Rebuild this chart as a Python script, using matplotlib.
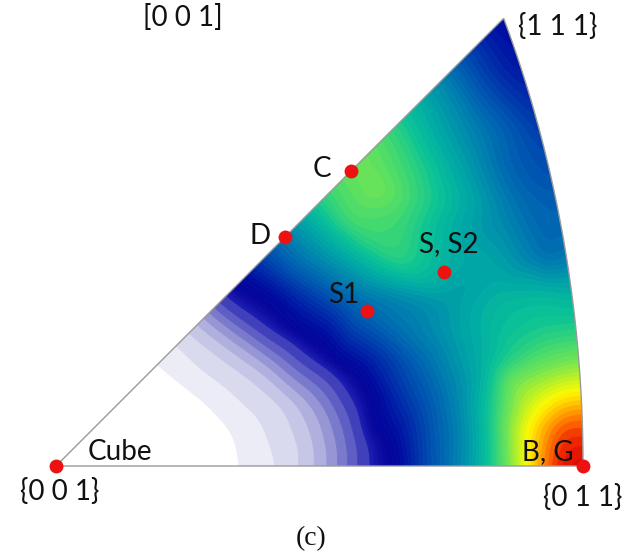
import numpy as np
import matplotlib
matplotlib.use("Agg")
import matplotlib.pyplot as plt
import matplotlib.tri as mtri
from matplotlib.colors import LinearSegmentedColormap
from matplotlib.patches import PathPatch
from matplotlib.path import Path

# ---------------- data ----------------
# texture components (Miller indices of the plane normal) and their labels
comp_labels = ["Cube", "D", "C", "S1", "S, S2", "B, G"]
comp_hkl = [(0, 0, 1), (4, 4, 11), (1, 1, 2), (1, 2, 4), (1, 2, 3), (0, 1, 1)]
comp_label_offset = [(64, 14), (-25, 1), (-29, 2), (-23, 16), (5, 28), (-35, 14)]

vertex_labels = ["{0 0 1}", "{0 1 1}", "{1 1 1}"]
vertex_hkl = [(0, 0, 1), (0, 1, 1), (1, 1, 1)]
vertex_label_offset = [(4, -26), (0, -31), (54, -8)]

# intensity samples (plot-plane units, {001} at origin)
# bottom edge {001}-{011}
bottom_x = [0, 94, 144, 184, 222, 241, 257, 271, 281, 291, 301, 312, 344, 364,
            394, 421, 444, 461, 471, 484, 497, 514, 527]
bottom_v = [0, 3, 6, 10, 14, 18, 22, 26, 30, 34, 38, 42, 48, 54,
            61, 68, 76, 84, 88, 92, 96, 99, 100]
# left edge {001}-{111} (distance along x)
left_x = [64, 80, 101, 121, 133, 141, 148, 153, 158, 162, 167, 176, 186, 194,
          206, 224, 230, 254, 264, 280, 296, 312, 329, 347, 364, 381, 394, 409,
          424, 436]
left_v = [3, 6, 10, 14, 18, 22, 26, 30, 34, 38, 42, 45, 48, 51,
          55, 60, 62, 70, 73, 77, 79, 80, 77, 73, 69, 65, 61, 57,
          53, 50]
# arc {011}-{111}: parameter t of direction (t, 1, 1)
arc_t = [0.05, 0.1, 0.15, 0.2, 0.25, 0.3, 0.4, 0.5, 0.6, 0.7, 0.8, 0.9, 1.0]
arc_v = [96, 93, 87, 81, 75, 71, 63, 59, 56, 53, 51, 49, 48]
# interior samples
inner_x = [44, 94, 124, 74, 144, 94, 134, 64,                 # white
           121, 151, 177, 184,                                # level 10
           162, 197, 230, 247,                                # level 18
           179, 216, 264, 273,                                # level 26
           192, 230, 268, 292,                                # level 34
           204, 244, 284, 302, 311,                           # level 42
           314, 344, 374, 404, 434, 454, 474, 494, 509,       # row 36
           314, 344, 374, 404, 434, 454, 474, 494, 509,       # row 66
           454,                                               # row 86
           284, 314, 344, 374, 404, 434, 464, 484, 504,       # row 106
           244, 274, 294, 344, 394, 444, 484,                 # row 136
           214, 244, 294, 344, 394, 444, 494, 312,            # row 166
           244, 294, 344, 394, 444, 464, 494,                 # row 206
           294, 344, 394, 444, 484,                           # row 246
           314, 364, 414, 464, 319,                           # row 266
           320, 364, 414, 454,                                # row 296
           374, 424, 464,                                     # row 336
           424, 454]                                          # row 396
inner_y = [26, 46, 26, 66, 26, 66, 36, 36,
           86, 63, 36, 6,
           113, 88, 60, 13,
           124, 98, 48, 11,
           133, 105, 76, 19,
           141, 113, 83, 53, 21,
           36, 36, 36, 36, 36, 36, 36, 36, 36,
           66, 66, 66, 66, 66, 66, 66, 66, 66,
           86,
           106, 106, 106, 106, 106, 106, 106, 106, 106,
           136, 136, 136, 136, 136, 136, 136,
           166, 166, 166, 166, 166, 166, 166, 154,
           206, 206, 206, 206, 206, 206, 206,
           246, 246, 246, 246, 246,
           266, 266, 266, 266, 276,
           296, 296, 296, 296,
           336, 336, 336,
           396, 396]
inner_v = [0.5, 3, 5, 4, 7, 6, 6, 3,
           10, 10, 10, 10,
           18, 18, 18, 18,
           26, 26, 26, 26,
           34, 34, 34, 34,
           42, 42, 42, 42, 42,
           46, 50, 57, 63, 72, 82, 89, 93, 96,
           46, 53, 58, 64, 72, 80, 85, 88, 90,
           80,
           48, 51, 56, 61, 66, 70, 75, 78, 79,
           48, 50, 55, 61, 66, 71, 73,
           47, 52, 59, 63, 66, 70, 71, 60,
           61, 68, 75, 69, 67, 64, 60,
           77, 76, 69, 64, 59,
           79, 75, 68, 60, 81,
           79, 74, 66, 59,
           69, 62, 57,
           55, 51]

# colour levels: white, 8 lavender steps, then a continuous scale
band_levels = [10, 14, 18, 22, 26, 30, 34, 38, 42]
lavender = ["#ffffff", "#ececf6", "#dadaef", "#c6c6e7", "#b0b0df",
            "#9696d5", "#7a7acc", "#5e5ec4", "#4040bb"]
scale_vals = [42, 46, 49, 53, 58, 63, 68, 72, 76, 80, 84, 88, 91, 94, 97, 100]
scale_cols = ["#1e1eb4", "#05059b", "#000aa0", "#002daa", "#005ab2", "#0082af",
              "#00aaa5", "#0ac396", "#3cd773", "#6ee455", "#b4f028", "#fffa00",
              "#ffbe00", "#ff6e00", "#eb1900", "#c80000"]

# ---------------- geometry (equal-area projection) ----------------
SCALE = 527.0 / (2 * np.sin(np.pi / 8))


def proj(h, k, l):
    v = np.array([h, k, l], float)
    v /= np.linalg.norm(v)
    theta = np.arccos(v[2])
    phi = np.arctan2(v[0], v[1])
    r = SCALE * 2 * np.sin(theta / 2)
    return r * np.cos(phi), r * np.sin(phi)


apex = proj(1, 1, 1)
tt = np.linspace(0, 1, 200)
arc = np.array([proj(t, 1, 1) for t in tt])

# ---------------- assemble samples ----------------
px, py, pv = [0.0], [0.0], [0.0]
for x, v in zip(bottom_x[1:], bottom_v[1:]):
    px.append(x); py.append(0.0); pv.append(v)
for x, v in zip(left_x, left_v):
    px.append(x); py.append(x * apex[1] / apex[0]); pv.append(v)
for t, v in zip(arc_t, arc_v):
    a = proj(t, 1, 1)
    px.append(a[0]); py.append(a[1]); pv.append(v)
px += inner_x; py += inner_y; pv += inner_v
px, py, pv = map(np.array, (px, py, pv))

tri = mtri.Triangulation(px, py)
lin = mtri.LinearTriInterpolator(tri, pv)
step = 1.5
gx = np.arange(-20, 550, step)
gy = np.arange(-20, 470, step)
GX, GY = np.meshgrid(gx, gy)
Z = lin(GX, GY)
m = (~np.ma.getmaskarray(Z)).astype(float)
zv = np.ma.filled(Z, 0.0) * m

sigma = 9.0 / step
kx = np.arange(-int(3 * sigma), int(3 * sigma) + 1)
kern = np.exp(-0.5 * (kx / sigma) ** 2)
kern /= kern.sum()


def blur(a):
    a = np.apply_along_axis(lambda r: np.convolve(r, kern, mode="same"), 1, a)
    return np.apply_along_axis(lambda c: np.convolve(c, kern, mode="same"), 0, a)


num = blur(zv)
den = blur(m)
ZS = np.where(den > 1e-3, num / np.maximum(den, 1e-3), np.nan)

cmap = LinearSegmentedColormap.from_list(
    "ipf", [((v - 42) / 58, c) for v, c in zip(scale_vals, scale_cols)])
fine = list(np.arange(43, 100.5, 1.0))
levels = [-1e4] + band_levels + fine + [1e4]
colors = list(lavender)
mids = [(a + b) / 2 for a, b in zip([42] + fine, fine + [101])]
colors += [cmap(min(max((m_ - 42) / 58, 0), 1)) for m_ in mids]

# ---------------- figure ----------------
fig = plt.figure(figsize=(6.38, 5.53), dpi=100)
ax = fig.add_axes([0, 0, 1, 1])
ax.set_xlim(-56, 582)
ax.set_ylim(-87, 466)
ax.axis("off")

cs = ax.contourf(GX, GY, ZS, levels=levels, colors=colors, antialiased=True)
cs.set_edgecolor("face")
cs.set_linewidth(0.6)

verts = [(0, 0), (527, 0)] + [tuple(p) for p in arc[1:]] + [(0, 0)]
codes = [Path.MOVETO] + [Path.LINETO] * (len(verts) - 2) + [Path.CLOSEPOLY]
boundary = Path(verts, codes)
patch = PathPatch(boundary, facecolor="none", edgecolor="#9a9a9a", lw=1.0, zorder=3)
ax.add_patch(patch)
cs.set_clip_path(patch)

font = "Lato"
for lab, hkl, off in zip(comp_labels, comp_hkl, comp_label_offset):
    x, y = proj(*hkl)
    ax.plot(x, y, "o", color="#ee1111", ms=10, mec="none", zorder=5)
    ax.annotate(lab, (x, y), xytext=off, textcoords="offset pixels",
                ha="center", va="center", fontsize=20, family=font, color="#111111",
                zorder=6)
for lab, hkl, off in zip(vertex_labels, vertex_hkl, vertex_label_offset):
    x, y = proj(*hkl)
    ax.annotate(lab, (x, y), xytext=off, textcoords="offset pixels",
                ha="center", va="center", fontsize=20, family=font, color="#111111")

fig.text(183 / 638, 1 - 17 / 553, "[0 0 1]", ha="center", va="center",
         fontsize=20, family=font, color="#111111")
fig.text(311 / 638, 1 - 539 / 553, "(c)", ha="center", va="center",
         fontsize=20, family="Liberation Serif", color="#111111")

fig.savefig("out.png", dpi=100)
